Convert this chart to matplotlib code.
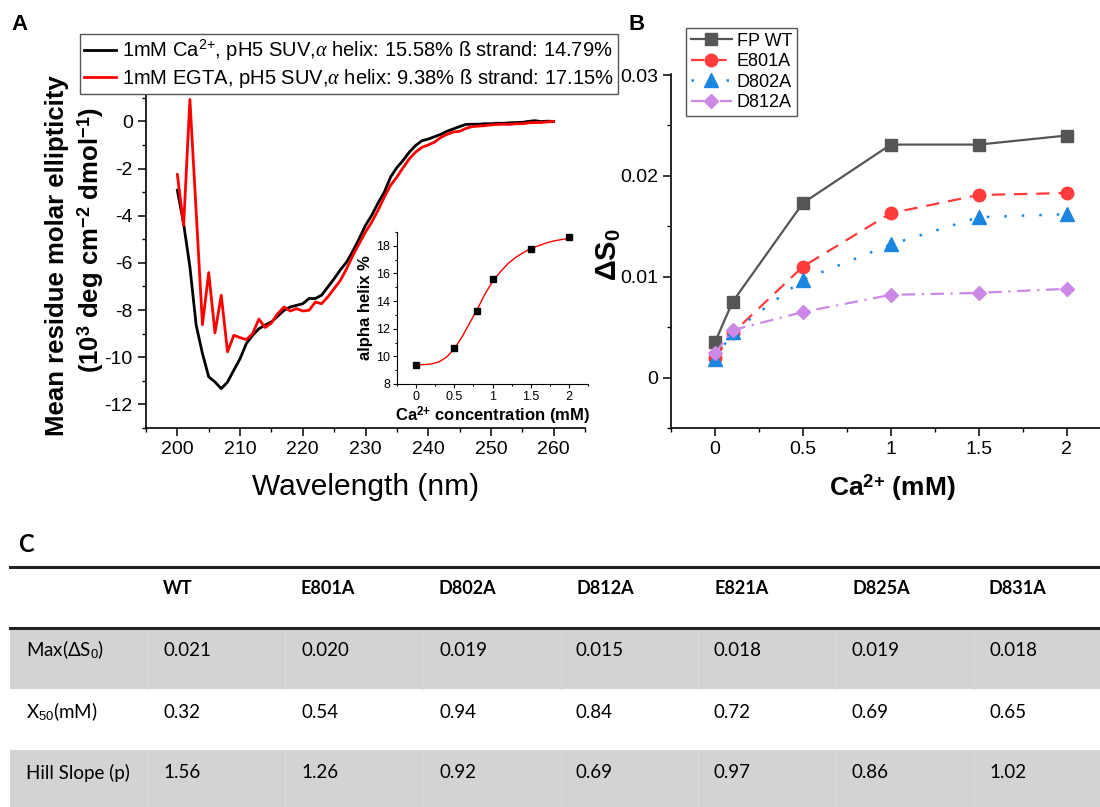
import matplotlib
matplotlib.use('Agg')
import matplotlib.pyplot as plt
from matplotlib.ticker import MultipleLocator, FuncFormatter
from matplotlib.patches import Rectangle

plt.rcParams['font.family'] = ['Liberation Sans', 'DejaVu Sans']
plt.rcParams['mathtext.fontset'] = 'custom'
plt.rcParams['mathtext.rm'] = 'Liberation Sans'
plt.rcParams['mathtext.it'] = 'Liberation Serif:italic'
plt.rcParams['mathtext.bf'] = 'Liberation Sans:bold'
plt.rcParams['axes.unicode_minus'] = False

# ---- panel A: CD spectra ----
wavelength = list(range(200, 261))
cd_ca = [-2.92, -4.34, -6.17, -8.64, -9.84, -10.83, -11.05, -11.33, -11.05, -10.55,
         -10.06, -9.42, -9.07, -8.79, -8.64, -8.50, -8.26, -8.01, -7.87, -7.80,
         -7.73, -7.51, -7.51, -7.37, -7.02, -6.67, -6.29, -5.96, -5.49, -4.97,
         -4.41, -3.98, -3.46, -3.00, -2.36, -1.96, -1.65, -1.30, -1.02, -0.82,
         -0.75, -0.65, -0.55, -0.42, -0.32, -0.22, -0.13, -0.12, -0.12, -0.10,
         -0.10, -0.08, -0.08, -0.06, -0.05, -0.04, 0.00, 0.03, -0.01, 0.01, 0.00]
cd_egta = [-2.25, -4.41, 0.93, -3.84, -8.62, -6.41, -8.97, -7.37, -9.77, -9.07,
           -9.17, -9.25, -9.00, -8.38, -8.74, -8.55, -8.15, -7.87, -8.04, -7.94,
           -8.04, -8.01, -7.66, -7.73, -7.44, -7.09, -6.74, -6.24, -5.68, -5.18,
           -4.69, -4.27, -3.77, -3.21, -2.71, -2.36, -1.96, -1.58, -1.30, -1.10,
           -1.00, -0.88, -0.68, -0.55, -0.45, -0.42, -0.30, -0.22, -0.20, -0.18,
           -0.15, -0.13, -0.12, -0.13, -0.10, -0.10, -0.06, -0.05, -0.05, -0.02, 0.00]
label_ca = r'1mM Ca$^{2{+}}$, pH5 SUV,$\alpha$ helix: 15.58% ß strand: 14.79%'
label_egta = r'1mM EGTA, pH5 SUV,$\alpha$ helix: 9.38% ß strand: 17.15%'

# inset: alpha helix vs Ca2+
inset_ca = [0, 0.5, 0.8, 1.0, 1.5, 2.0]
inset_helix = [9.38, 10.6, 13.3, 15.58, 17.8, 18.65]
fit_ca = [0, 0.1, 0.2, 0.3, 0.4, 0.5, 0.6, 0.7, 0.8, 0.9, 1.0,
          1.1, 1.2, 1.3, 1.4, 1.5, 1.6, 1.7, 1.8, 1.9, 2.0]
fit_helix = [9.4, 9.4, 9.45, 9.6, 9.95, 10.55, 11.4, 12.4, 13.4, 14.5, 15.4,
             16.1, 16.7, 17.15, 17.5, 17.8, 18.0, 18.2, 18.35, 18.45, 18.55]

# ---- panel B: delta S0 vs Ca2+ ----
ca_mM = [0, 0.1, 0.5, 1.0, 1.5, 2.0]
ds_wt = [0.0035, 0.0075, 0.0173, 0.0231, 0.0231, 0.0240]
ds_e801a = [0.0019, 0.0044, 0.0110, 0.0163, 0.0181, 0.0183]
ds_d802a = [0.0018, 0.0045, 0.0097, 0.0132, 0.0159, 0.0162]
ds_d812a = [0.0024, 0.0047, 0.0065, 0.0082, 0.0084, 0.0088]

# ---- panel C: table ----
table_cols = ['WT', 'E801A', 'D802A', 'D812A', 'E821A', 'D825A', 'D831A']
table_rows = [r'Max(ΔS$_0$)', r'X$_{50}$(mM)', 'Hill Slope (p)']
max_ds0 = ['0.021', '0.020', '0.019', '0.015', '0.018', '0.019', '0.018']
x50 = ['0.32', '0.54', '0.94', '0.84', '0.72', '0.69', '0.65']
hill = ['1.56', '1.26', '0.92', '0.69', '0.97', '0.86', '1.02']

W, H = 1100, 807
fig = plt.figure(figsize=(W / 100, H / 100), dpi=100)


def box(l, t, r, b):
    return [l / W, 1 - b / H, (r - l) / W, (b - t) / H]


def style_axis(ax, size, major, minor):
    for s in ['top', 'right']:
        ax.spines[s].set_visible(False)
    for s in ['left', 'bottom']:
        ax.spines[s].set_linewidth(1.2)
    ax.tick_params(which='major', direction='out', length=major, width=1.1, labelsize=size)
    ax.tick_params(which='minor', direction='out', length=minor, width=1.0)
    fmt = FuncFormatter(lambda v, _: f'{round(v, 6):g}')
    ax.xaxis.set_major_formatter(fmt)
    ax.yaxis.set_major_formatter(fmt)


# table drawn on a full-figure overlay in pixel units
tab = fig.add_axes([0, 0, 1, 1])
tab.set_xlim(0, W)
tab.set_ylim(H, 0)
tab.axis('off')
tfont = ['Lato', 'DejaVu Sans']
col_x = [163, 301, 439, 576, 714, 852, 989]
row_y = [648, 710, 771]
tab.add_patch(Rectangle((10, 628), W - 10, 61, color='#d3d3d3', lw=0))
tab.add_patch(Rectangle((10, 750), W - 10, 57, color='#d3d3d3', lw=0))
for bx in [147, 285, 423, 561, 698, 836, 974]:
    tab.plot([bx, bx], [628, 689], color='#dadada', lw=0.8)
    tab.plot([bx, bx], [750, 807], color='#dadada', lw=0.8)
tab.plot([10, W], [567, 567], color='#222222', lw=2.2)
tab.plot([10, W], [628, 628], color='#222222', lw=2.2)
tab.text(18, 545, 'C', fontsize=17, fontweight='bold', family=tfont, va='center')
for x, c in zip(col_x, table_cols):
    tab.text(x, 588, c, fontsize=13, fontweight='bold', family=tfont, va='center')
for y, lab, vals in zip(row_y, table_rows, [max_ds0, x50, hill]):
    tab.text(26, y + 2, lab, fontsize=13.5, family=tfont, va='center')
    for x, v in zip(col_x, vals):
        tab.text(x, y + 2, v, fontsize=13.5, family=tfont, va='center')

# panel A
axA = fig.add_axes(box(146, 86, 585, 428))
axA.plot(wavelength, cd_ca, color='black', lw=2.0, label=label_ca)
axA.plot(wavelength, cd_egta, color='#ff0000', lw=2.0, label=label_egta)
axA.set_xlim(195, 265)
axA.set_ylim(-13, 1.5)
axA.xaxis.set_major_locator(MultipleLocator(10))
axA.xaxis.set_minor_locator(MultipleLocator(5))
axA.yaxis.set_major_locator(MultipleLocator(2))
axA.yaxis.set_minor_locator(MultipleLocator(1))
style_axis(axA, 14, 6, 3)
axA.patch.set_alpha(0)
legA = fig.legend(loc='upper left', bbox_to_anchor=(80 / W, 1 - 34 / H),
                  bbox_transform=fig.transFigure, fontsize=14.5, frameon=True,
                  fancybox=False, edgecolor='#555555', framealpha=1,
                  borderpad=0.2, borderaxespad=0, handlelength=1.6,
                  handletextpad=0.3, labelspacing=0.2)
legA.get_frame().set_linewidth(1.0)
fig.text(57 / W, 1 - 256 / H, 'Mean residue molar ellipticity', rotation=90,
         fontsize=18.5, fontweight='bold', ha='center', va='center')
fig.text(91 / W, 1 - 240 / H,
         r'(10$^{\mathbf{3}}$ deg cm$^{\mathbf{-2}}$ dmol$^{\mathbf{-1}}$)',
         rotation=90, fontsize=18.5, fontweight='bold', ha='center', va='center')
fig.text(366 / W, 1 - 487 / H, 'Wavelength (nm)', fontsize=21.5, ha='center', va='center')
fig.text(20 / W, 1 - 25 / H, 'A', fontsize=16, fontweight='bold', ha='center', va='center')

# inset
axI = fig.add_axes(box(397, 232, 588, 384))
axI.plot(fit_ca, fit_helix, color='#ff0000', lw=1.0)
axI.plot(inset_ca, inset_helix, 's', color='black', ms=4)
axI.set_xlim(-0.25, 2.25)
axI.set_ylim(8, 19)
axI.xaxis.set_major_locator(MultipleLocator(0.5))
axI.xaxis.set_minor_locator(MultipleLocator(0.25))
axI.yaxis.set_major_locator(MultipleLocator(2))
axI.yaxis.set_minor_locator(MultipleLocator(1))
style_axis(axI, 9, 3, 1.5)
for s in ['left', 'bottom']:
    axI.spines[s].set_linewidth(0.8)
axI.tick_params(which='both', width=0.8, pad=2)
axI.patch.set_alpha(0)
axI.set_ylabel('alpha helix %', fontsize=12, fontweight='bold', labelpad=2)
axI.set_xlabel(r'Ca$^{\mathbf{2{+}}}$ concentration (mM)', fontsize=12,
               fontweight='bold', labelpad=1)

# panel B
axB = fig.add_axes(box(671, 74, 1100, 428))
axB.plot(ca_mM, ds_wt, color='#555555', lw=1.6, marker='s', ms=8.5, label='FP WT')
axB.plot(ca_mM, ds_e801a, color='#ff3b3b', lw=1.6, ls=(0, (6, 4)), marker='o',
         ms=9, label='E801A')
axB.plot(ca_mM, ds_d802a, color='#1a86e0', lw=1.8, ls=(0, (1, 6)), marker='^',
         ms=9.5, label='D802A')
axB.plot(ca_mM, ds_d812a, color='#cb88e6', lw=1.6, ls=(0, (6, 3, 1, 3)), marker='D',
         ms=7.5, label='D812A')
axB.set_xlim(-0.25, 2.19)
axB.set_ylim(-0.005, 0.0301)
axB.set_xticks([0, 0.5, 1, 1.5, 2])
axB.set_yticks([0, 0.01, 0.02, 0.03])
axB.xaxis.set_minor_locator(MultipleLocator(0.25))
axB.yaxis.set_minor_locator(MultipleLocator(0.005))
style_axis(axB, 14, 6, 3)
axB.patch.set_alpha(0)
legB = axB.legend(loc='upper left', bbox_to_anchor=(686 / W, 1 - 28 / H),
                  bbox_transform=fig.transFigure, fontsize=13, frameon=True,
                  fancybox=False, edgecolor='#555555', framealpha=1,
                  borderpad=0.25, borderaxespad=0, handlelength=2.3,
                  handletextpad=0.25, labelspacing=0.2)
legB.get_frame().set_linewidth(1.0)
fig.text(609 / W, 1 - 255 / H, r'ΔS$_{\mathbf{0}}$', rotation=90,
         fontsize=21, fontweight='bold', ha='center', va='center')
fig.text(892 / W, 1 - 488 / H, r'Ca$^{\mathbf{2{+}}}$ (mM)', fontsize=19,
         fontweight='bold', ha='center', va='center')
fig.text(637 / W, 1 - 24 / H, 'B', fontsize=16, fontweight='bold', ha='center', va='center')

fig.savefig('out.png', dpi=100)
